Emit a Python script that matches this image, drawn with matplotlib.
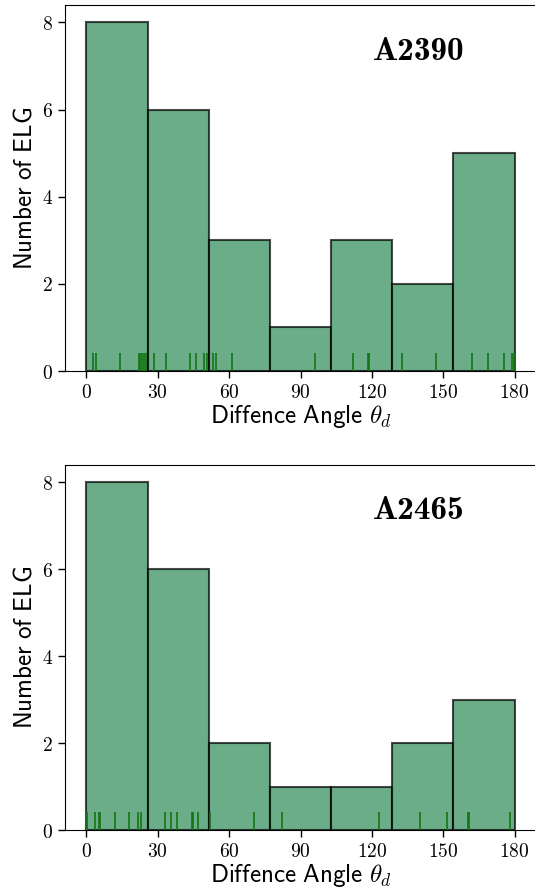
import os
import numpy as np
import matplotlib
matplotlib.use('Agg')
import matplotlib.pyplot as plt
from matplotlib.ticker import FuncFormatter
from matplotlib.font_manager import FontProperties

plt.rcParams['mathtext.fontset'] = 'cm'

# ===== DATA =====
# difference angles of the ELGs (degrees), read off the rug marks
a2390_angles = [2.6, 4.1, 14.3, 21.9, 22.6, 23.4, 24.1, 24.9,
                28.3, 33.5, 43.4, 46.0, 49.4, 50.6,
                53.3, 54.3, 61.4,
                95.9,
                112.0, 118.4, 118.9,
                132.8, 147.1,
                162.2, 168.9, 175.4, 178.9, 179.6]
a2465_angles = [0.4, 3.4, 5.2, 5.8, 12.1, 18.1, 21.6, 22.8,
                33.2, 35.6, 38.1, 44.2, 45.0, 47.0,
                52.1, 70.4,
                82.0,
                122.9,
                140.2, 151.7,
                160.3, 161.0, 177.9]
cluster_names = ['A2390', 'A2465']
bin_edges = [0, 180 / 7, 360 / 7, 540 / 7, 720 / 7, 900 / 7, 1080 / 7, 180]
x_ticks = [0, 30, 60, 90, 120, 150, 180]
y_ticks = [0, 2, 4, 6, 8]

# Computer Modern bold shipped with matplotlib
cm_bold = FontProperties(fname=os.path.join(matplotlib.get_data_path(), 'fonts', 'ttf', 'cmb10.ttf'),
                         size=24)

# ===== PLOT =====
fig = plt.figure(figsize=(5.35, 8.88), dpi=100)
ax_top = fig.add_axes([0.1215, 0.5822, 0.8805, 0.4122])
ax_bot = fig.add_axes([0.1215, 0.0653, 0.8805, 0.4110])

math_fmt = FuncFormatter(lambda v, pos: f'${v:g}$')

for ax, name, angles in zip([ax_top, ax_bot], cluster_names, [a2390_angles, a2465_angles]):
    ax.hist(angles, bins=bin_edges, color='seagreen', alpha=0.7,
            edgecolor='black', linewidth=1.5)
    # rug
    ax.vlines(angles, 0, 0.05, transform=ax.get_xaxis_transform(),
              color='#137513', linewidth=1.2, zorder=3)

    ax.set_xlim(-9, 189)
    ax.set_ylim(0, 8.4)
    ax.set_xticks(x_ticks)
    ax.set_yticks(y_ticks)
    ax.xaxis.set_major_formatter(math_fmt)
    ax.yaxis.set_major_formatter(math_fmt)
    ax.tick_params(labelsize=14, length=5, width=1)

    ax.set_xlabel(r'$\mathsf{Diffence\ Angle}\ \theta_d$', fontsize=18, labelpad=1)
    ax.set_ylabel(r'$\mathsf{Number\ of\ ELG}$', fontsize=18, labelpad=4)
    ax.text(0.7516, 0.851, name, transform=ax.transAxes,
            ha='center', va='baseline', fontproperties=cm_bold)

fig.savefig('out.png', dpi=100)
plt.close()
